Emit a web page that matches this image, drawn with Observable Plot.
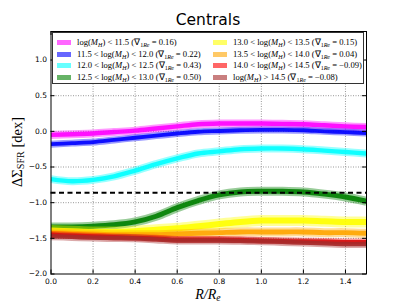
<!DOCTYPE html>
<html>
<head>
<meta charset="utf-8">
<script src="https://cdn.jsdelivr.net/npm/d3@7"></script>
<script src="https://cdn.jsdelivr.net/npm/@observablehq/plot@0.6"></script>
<style>
  body { margin: 0; background: white; }
  #wrap { position: relative; width: 407px; height: 305px; overflow: hidden; }
  #title { position: absolute; left: 0; width: 416px; top: 11px; text-align: center;
           font-family: "DejaVu Sans", sans-serif; font-size: 15.5px; color: black; }
  #legend { position: absolute; left: 52px; top: 32px; width: 312px; height: 52px;
            border: 1px solid #333; background: white; box-sizing: border-box; }
  .item { position: absolute; font-family: "Liberation Serif", serif; font-size: 8.6px; white-space: nowrap; line-height: 10px; }
  .patch { position: absolute; top: 2px; width: 14px; height: 5px; }
  .txt { position: absolute; left: 20px; top: -1px; }
  sub { font-size: 70%; vertical-align: -2px; line-height: 0; }
  #ylab { position: absolute; left: 17px; top: 152px; transform: translate(-50%,-50%) rotate(-90deg);
          font-family: "Liberation Serif", serif; font-size: 14.5px; white-space: nowrap; }
  #xlab { position: absolute; left: 208px; top: 295px; transform: translate(-50%,-50%);
          font-family: "Liberation Serif", serif; font-size: 14px; font-style: italic; white-space: nowrap; }
</style>
</head>
<body>
<div id="wrap">
  <div id="chart"></div>
  <div id="title">Centrals</div>
  <div id="legend"></div>
  <div id="ylab">ΔΣ<sub>SFR</sub> [dex]</div>
  <div id="xlab">R/R<sub>e</sub></div>
</div>
<script>
// ---- data ----
const radius = [0,0.1,0.2,0.3,0.4,0.5,0.6,0.7,0.8,0.9,1.0,1.1,1.2,1.3,1.4,1.5];
const bin1 = [-0.05,-0.04,-0.03,-0.01,0.01,0.04,0.07,0.10,0.11,0.11,0.11,0.105,0.10,0.085,0.07,0.06];
const bin2 = [-0.18,-0.165,-0.15,-0.12,-0.09,-0.06,-0.03,-0.005,0.005,0.015,0.02,0.02,0.015,0.0,-0.01,-0.025];
const bin3 = [-0.67,-0.70,-0.68,-0.63,-0.55,-0.46,-0.38,-0.31,-0.28,-0.25,-0.24,-0.24,-0.25,-0.27,-0.29,-0.31];
const bin4 = [-1.34,-1.34,-1.33,-1.31,-1.27,-1.19,-1.07,-0.97,-0.89,-0.85,-0.84,-0.84,-0.85,-0.88,-0.92,-0.98];
const bin5 = [-1.39,-1.40,-1.41,-1.41,-1.40,-1.38,-1.36,-1.33,-1.30,-1.27,-1.25,-1.25,-1.25,-1.26,-1.27,-1.27];
const bin6 = [-1.42,-1.43,-1.44,-1.45,-1.45,-1.45,-1.44,-1.43,-1.42,-1.41,-1.41,-1.41,-1.41,-1.42,-1.42,-1.43];
const bin7 = [-1.445,-1.46,-1.47,-1.48,-1.49,-1.50,-1.515,-1.515,-1.515,-1.52,-1.53,-1.535,-1.54,-1.545,-1.55,-1.55];
const bin8 = [-1.47,-1.48,-1.49,-1.495,-1.50,-1.515,-1.53,-1.53,-1.53,-1.535,-1.54,-1.55,-1.56,-1.57,-1.58,-1.58];
const threshold = -0.86;
const labels = [
  "log(<i>M</i><sub><i>H</i></sub>) &lt; 11.5",
  "11.5 &lt; log(<i>M</i><sub><i>H</i></sub>) &lt; 12.0",
  "12.0 &lt; log(<i>M</i><sub><i>H</i></sub>) &lt; 12.5",
  "12.5 &lt; log(<i>M</i><sub><i>H</i></sub>) &lt; 13.0",
  "13.0 &lt; log(<i>M</i><sub><i>H</i></sub>) &lt; 13.5",
  "13.5 &lt; log(<i>M</i><sub><i>H</i></sub>) &lt; 14.0",
  "14.0 &lt; log(<i>M</i><sub><i>H</i></sub>) &lt; 14.5",
  "log(<i>M</i><sub><i>H</i></sub>) &gt; 14.5"
];
const gradients = ["0.16","0.22","0.43","0.50","0.15","0.04","−0.09","−0.08"];
const colors = ["#ff00ff","#0000ff","#00ffff","#008000","#ffff00","#ffa500","#ff0000","#a52a2a"];
const xTicks = [0.0,0.2,0.4,0.6,0.8,1.0,1.2,1.4];
const yTicks = [-2.0,-1.5,-1.0,-0.5,0.0,0.5,1.0];

// ---- build ----
const series = [bin1,bin2,bin3,bin4,bin5,bin6,bin7,bin8];
const W = 407, H = 305, mL = 50.5, mR = 41, mT = 31, mB = 31.5;
const pw = W - mL - mR, ph = H - mT - mB;
const fmt = d => (d < 0 ? "−" : "") + Math.abs(d).toFixed(1);
const bandWidth = [8,7,8,9,11,9,7,8];

const lineMarks = [];
series.forEach((vals, i) => {
  const rows = vals.map((v, j) => ({x: radius[j], y: v}));
  lineMarks.push(Plot.line(rows, {x: "x", y: "y", stroke: colors[i], strokeWidth: bandWidth[i], strokeOpacity: 0.4, strokeLinecap: "butt", curve: "catmull-rom", clip: true}));
  lineMarks.push(Plot.line(rows, {x: "x", y: "y", stroke: colors[i], strokeWidth: bandWidth[i] * 0.55, strokeOpacity: 0.9, strokeLinecap: "butt", curve: "catmull-rom", clip: true}));
});

const chart = Plot.plot({
  width: W, height: H, marginLeft: mL, marginRight: mR, marginTop: mT, marginBottom: mB,
  x: {domain: [0, 1.5]},
  y: {domain: [-2, 1.4]},
  style: {fontFamily: "DejaVu Sans", fontSize: "7.5px", color: "black", background: "white"},
  marks: [
    Plot.gridX(xTicks.filter(v => v > 0), {stroke: "#999", strokeOpacity: 1, strokeDasharray: "1,1.5"}),
    Plot.gridY(yTicks.filter(v => v > -2), {stroke: "#999", strokeOpacity: 1, strokeDasharray: "1,1.5"}),
    ...lineMarks,
    Plot.ruleY([threshold], {stroke: "black", strokeWidth: 2, strokeDasharray: "5,3.5"}),
    Plot.axisX(xTicks, {tickSize: 0, tickPadding: 5, tickFormat: fmt, label: null}),
    Plot.axisY(yTicks, {tickSize: 0, tickPadding: 4, tickFormat: fmt, label: null}),
    Plot.tickX(xTicks, {x: d => d, insetTop: ph - 4, stroke: "black"}),
    Plot.tickX(xTicks, {x: d => d, insetBottom: ph - 4, stroke: "black"}),
    Plot.tickY(yTicks, {y: d => d, insetRight: pw - 4, stroke: "black"}),
    Plot.tickY(yTicks, {y: d => d, insetLeft: pw - 4, stroke: "black"}),
    Plot.frame({stroke: "black", strokeWidth: 1})
  ]
});
document.getElementById("chart").appendChild(chart);

const legend = document.getElementById("legend");
labels.forEach((lab, i) => {
  const col = Math.floor(i / 4), row = i % 4;
  const item = document.createElement("div");
  item.className = "item";
  item.style.left = (4 + col * 156) + "px";
  item.style.top = (5 + row * 11.7) + "px";
  item.innerHTML = `<div class="patch" style="background:${colors[i]};opacity:0.6"></div>` +
    `<div class="txt">${lab} (∇<sub>1<i>Re</i></sub> = ${gradients[i]})</div>`;
  legend.appendChild(item);
});
</script>
</body>
</html>
